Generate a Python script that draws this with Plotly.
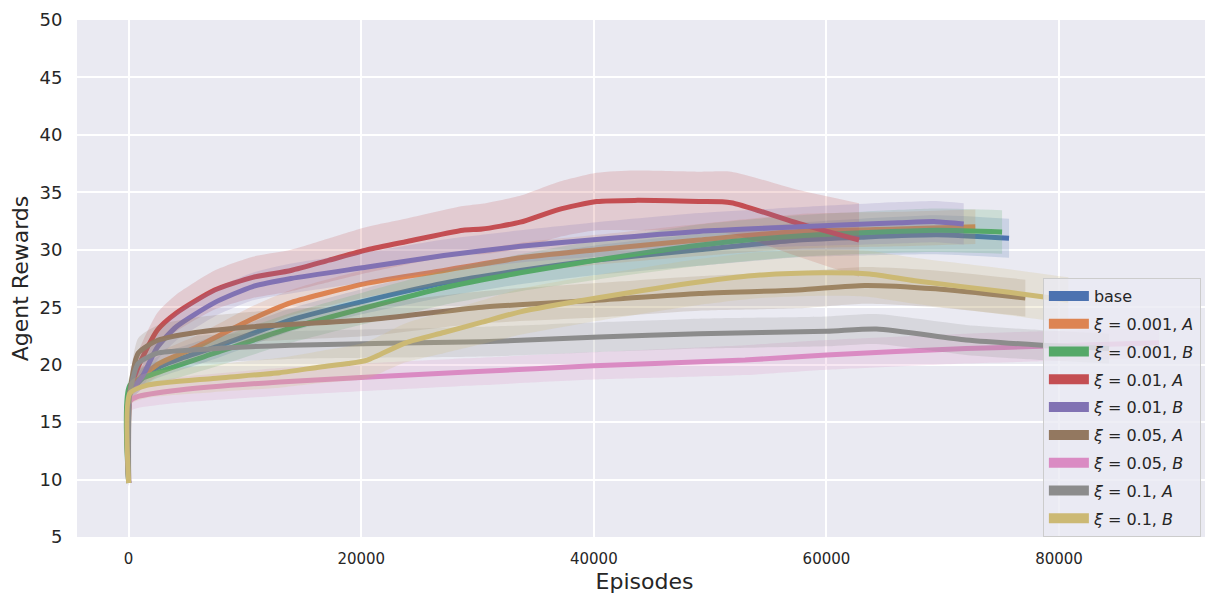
import plotly.graph_objects as go

# ---------------- data ----------------
labels = ["base", "ξ=0.001,A", "ξ=0.001,B", "ξ=0.01,A", "ξ=0.01,B",
          "ξ=0.05,A", "ξ=0.05,B", "ξ=0.1,A", "ξ=0.1,B"]
legend_html = ["base",
               "<i>ξ</i> = 0.001, <i>A</i>", "<i>ξ</i> = 0.001, <i>B</i>",
               "<i>ξ</i> = 0.01, <i>A</i>", "<i>ξ</i> = 0.01, <i>B</i>",
               "<i>ξ</i> = 0.05, <i>A</i>", "<i>ξ</i> = 0.05, <i>B</i>",
               "<i>ξ</i> = 0.1, <i>A</i>", "<i>ξ</i> = 0.1, <i>B</i>"]

base_x = [0, 100, 2000, 4100, 7390, 13960, 20530, 27100, 33670, 40240, 49040, 57600, 63000, 69500, 75700]
base_y = [9.7, 17.5, 19.5, 20.4, 21.5, 23.9, 25.6, 27.1, 28.2, 29.1, 30.0, 30.85, 31.1, 31.3, 31.0]
base_b = [0.3, 0.8, 0.9, 1.0, 1.0, 1.0, 1.1, 1.2, 1.2, 1.3, 1.4, 1.5, 1.6, 1.7, 1.7]

o_x = [0, 100, 2460, 5750, 10670, 13960, 20530, 27100, 33670, 40240, 49040, 57600, 66200, 72800]
o_y = [9.7, 17.8, 20.0, 21.5, 24.0, 25.4, 27.1, 28.2, 29.3, 30.0, 30.85, 31.6, 31.8, 32.0]
o_b = [0.3, 0.8, 1.0, 1.0, 1.1, 1.1, 1.2, 1.2, 1.3, 1.3, 1.4, 1.5, 1.5, 1.5]

g_x = [0, 100, 2460, 7390, 13960, 20530, 27100, 33670, 40240, 49040, 57600, 69400, 75100]
g_y = [9.7, 18.2, 19.3, 21.0, 23.2, 25.0, 26.7, 28.0, 29.1, 30.4, 31.2, 31.7, 31.55]
g_b = [0.3, 0.8, 1.0, 1.2, 1.3, 1.4, 1.5, 1.6, 1.7, 1.8, 1.8, 1.9, 1.9]

r_x = [0, 100, 820, 2460, 4100, 7390, 10670, 13960, 17250, 20530, 23820, 28750, 30390,
       33670, 36950, 40240, 43530, 49040, 51800, 57600, 62800]
r_y = [9.7, 17.5, 19.8, 23.0, 24.5, 26.5, 27.6, 28.2, 29.1, 30.0, 30.7, 31.7, 31.8,
       32.4, 33.5, 34.2, 34.3, 34.2, 34.1, 32.3, 30.85]
r_b = [0.3, 1.0, 1.3, 1.5, 1.6, 1.7, 1.8, 1.8, 1.9, 2.0, 2.0, 2.1, 2.2,
       2.3, 2.4, 2.5, 2.6, 2.6, 2.7, 2.9, 3.2]

p_x = [0, 100, 1200, 2460, 4100, 7390, 10670, 13960, 20530, 27100, 33670, 40240, 49040,
       57600, 66200, 69400, 71800]
p_y = [9.7, 17.5, 19.0, 21.5, 23.3, 25.4, 26.8, 27.5, 28.5, 29.5, 30.3, 30.9, 31.6,
       32.0, 32.35, 32.45, 32.25]
p_b = [0.3, 0.8, 1.0, 1.1, 1.2, 1.2, 1.2, 1.3, 1.3, 1.4, 1.4, 1.5, 1.6,
       1.7, 1.8, 1.8, 1.8]

br_x = [0, 100, 820, 2460, 5750, 10670, 20530, 30390, 40240, 49040, 57600, 63300, 69400, 77100]
br_y = [9.7, 17.5, 21.0, 22.1, 22.8, 23.3, 23.9, 25.0, 25.6, 26.2, 26.5, 26.9, 26.6, 25.8]
br_b = [0.3, 1.0, 1.3, 1.3, 1.3, 1.3, 1.4, 1.4, 1.5, 1.5, 1.6, 1.6, 1.6, 1.6]

pk_x = [0, 100, 700, 4400, 13000, 30000, 40000, 53000, 60000, 72000, 78500, 88600]
pk_y = [9.7, 16.8, 17.2, 17.8, 18.5, 19.4, 19.9, 20.4, 20.85, 21.4, 21.6, 21.9]
pk_b = [0.3, 0.9, 1.0, 1.1, 1.2, 1.2, 1.2, 1.3, 1.3, 1.3, 1.3, 1.3]

gr_x = [0, 100, 820, 2460, 5750, 13960, 30390, 40450, 49040, 60000, 64300, 72000, 78500, 84300]
gr_y = [9.7, 17.5, 20.1, 21.0, 21.3, 21.7, 22.0, 22.4, 22.7, 22.9, 23.1, 22.15, 21.7, 21.4]
gr_b = [0.3, 1.0, 1.2, 1.2, 1.2, 1.2, 1.3, 1.3, 1.3, 1.3, 1.3, 1.3, 1.3, 1.3]

y_x = [0, 100, 1550, 7250, 13000, 16500, 18900, 20530, 23820, 27100, 30390, 33670, 40240,
       49040, 54300, 59700, 63700, 67600, 75700, 80800]
y_y = [9.7, 17.5, 18.2, 18.8, 19.3, 19.8, 20.1, 20.4, 21.9, 22.8, 23.7, 24.6, 25.8,
       27.2, 27.8, 28.0, 27.9, 27.3, 26.3, 25.6]
y_b = [0.3, 1.0, 1.1, 1.2, 1.3, 1.4, 1.5, 1.6, 1.7, 1.8, 1.9, 2.0, 2.0,
       2.0, 2.0, 2.0, 2.0, 2.0, 2.0, 2.0]

colors = ["#4C72B0", "#DD8452", "#55A868", "#C44E52", "#8172B3",
          "#937860", "#DA8BC3", "#8C8C8C", "#CCB974"]

series = [(base_x, base_y, base_b), (o_x, o_y, o_b), (g_x, g_y, g_b),
          (r_x, r_y, r_b), (p_x, p_y, p_b), (br_x, br_y, br_b),
          (pk_x, pk_y, pk_b), (gr_x, gr_y, gr_b), (y_x, y_y, y_b)]

x_ticks = [0, 20000, 40000, 60000, 80000]
y_ticks = [5, 10, 15, 20, 25, 30, 35, 40, 45, 50]


def rgba(hexc, a):
    h = hexc.lstrip("#")
    return "rgba(%d,%d,%d,%.2f)" % (int(h[0:2], 16), int(h[2:4], 16), int(h[4:6], 16), a)


SMOOTH = 0.6
fig = go.Figure()

for (xs, ys, bs), c, name in zip(series, colors, labels):
    upper = [v + b for v, b in zip(ys, bs)]
    lower = [v - b for v, b in zip(ys, bs)]
    fig.add_trace(go.Scatter(x=xs, y=lower, mode="lines",
                             line=dict(width=0, shape="spline", smoothing=SMOOTH),
                             hoverinfo="skip", showlegend=False))
    fig.add_trace(go.Scatter(x=xs, y=upper, mode="lines", fill="tonexty",
                             fillcolor=rgba(c, 0.2),
                             line=dict(width=0, shape="spline", smoothing=SMOOTH),
                             hoverinfo="skip", showlegend=False))
    fig.add_trace(go.Scatter(x=xs, y=ys, mode="lines", name=name,
                             line=dict(color=c, width=5, shape="spline", smoothing=SMOOTH),
                             showlegend=False))

# legend entries (thicker handles, as in the reference)
for c, name, lh in zip(colors, labels, legend_html):
    fig.add_trace(go.Scatter(x=[None], y=[None], mode="lines", name=lh,
                             legendgroup=name, line=dict(color=c, width=10),
                             showlegend=True))

# page body has an 8px default margin, so the figure is sized/offset to compensate
fig.update_layout(
    width=1205, height=586,
    margin=dict(l=69, r=1, t=12, b=57),
    paper_bgcolor="white",
    plot_bgcolor="#EAEAF2",
    font=dict(family="DejaVu Sans", color="#262626"),
    legend=dict(x=0.851, y=0.501, xanchor="left", yanchor="top",
                bgcolor="rgba(234,234,242,0.8)", bordercolor="#CCCCCC",
                borderwidth=1, font=dict(size=16, color="#262626"),
                tracegroupgap=4, itemwidth=40),
    xaxis=dict(range=[-4440, 93150], tickvals=x_ticks, ticktext=[str(v) for v in x_ticks],
               showgrid=True, gridcolor="white", gridwidth=1.5, zeroline=False,
               showline=False, tickfont=dict(size=15, color="#262626"),
               ticks="outside", ticklen=8, tickcolor="rgba(0,0,0,0)", automargin=False,
               title=dict(text="Episodes", font=dict(size=22, color="#262626"), standoff=14)),
    yaxis=dict(range=[5, 50], tickvals=y_ticks,
               showgrid=True, gridcolor="white", gridwidth=1.5, zeroline=False,
               showline=False, tickfont=dict(size=18, color="#262626"),
               ticks="outside", ticklen=10, tickcolor="rgba(0,0,0,0)", automargin=False,
               title=dict(text="Agent Rewards", font=dict(size=22, color="#262626"), standoff=8)),
)

fig.write_html("out.html")
